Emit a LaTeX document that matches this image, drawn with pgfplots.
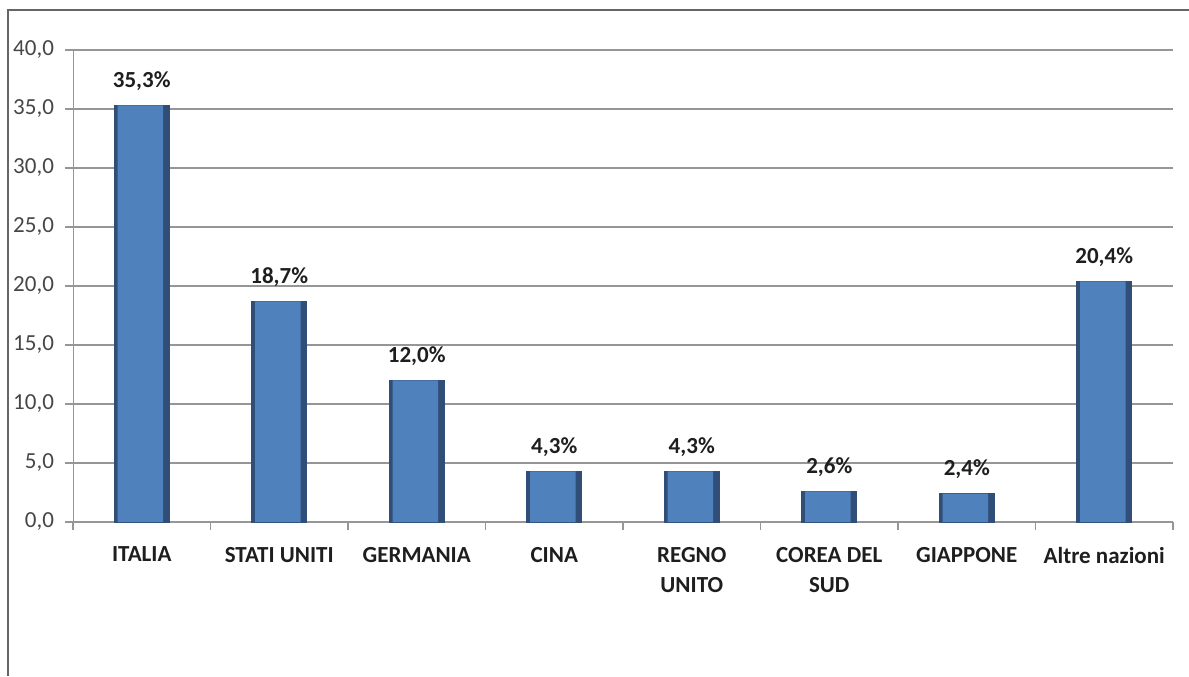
\documentclass[border=0pt]{standalone}
\usepackage{pgfplots}
\pgfplotsset{compat=1.18}
\usepackage{fontspec}
\setmainfont{Carlito}
\definecolor{barmid}{RGB}{79,129,189}
\definecolor{bardark}{RGB}{48,78,120}
\definecolor{gridc}{RGB}{150,150,150}
\definecolor{txt}{RGB}{70,70,70}
\definecolor{lab}{RGB}{30,30,30}
\begin{document}
\begin{tikzpicture}[x=1pt,y=1pt]
\path[use as bounding box] (0,0) rectangle (594.5,338);
\draw[gray!80!black, line width=0.9pt] (4,0) -- (4,333) -- (594.5,333);
\begin{axis}[
    at={(36.5pt,77pt)}, anchor=south west,
    scale only axis, width=550pt, height=236pt,
    xmin=-0.5, xmax=7.5, ymin=0, ymax=40,
    axis line style={gridc},
    axis x line*=bottom, axis y line*=left,
    ytick={0,5,...,40},
    ymajorgrids, grid style={gridc, line width=0.6pt},
    yticklabel style={font=\fontsize{11.5}{12}\selectfont, text=txt, xshift=-2pt},
    /pgf/number format/.cd, fixed, fixed zerofill, precision=1, use comma, assume math mode=true,
    /pgfplots/.cd,
    y tick style={gridc, line width=0.6pt},
    tick align=outside, major tick length=4pt,
    xtick={0,...,7},
    xticklabels={ITALIA, STATI UNITI, GERMANIA, CINA, {REGNO\\UNITO}, {COREA DEL\\SUD}, GIAPPONE, Altre nazioni},
    x tick style={draw=none},
    xticklabel style={font=\fontsize{11.5}{15}\selectfont\bfseries, text=lab, align=center, yshift=-5pt},
    extra x ticks={-0.5,0.5,...,7.5},
    extra x tick labels={},
    extra x tick style={grid=none, x tick style={draw=gridc, line width=0.6pt}, major tick length=4pt},
    ybar, bar shift=0pt,
]
% outer (dark edge) bar
\addplot[draw=bardark, line width=0.4pt, fill=bardark, bar width=0.4,
    nodes near coords={\pgfmathprintnumber[fixed,fixed zerofill,precision=1,use comma]{\pgfplotspointmeta}\%},
    every node near coord/.append style={font=\fontsize{11.5}{12}\selectfont\bfseries, text=lab, yshift=4pt}]
  coordinates {(0,35.3) (1,18.7) (2,12.0) (3,4.3) (4,4.3) (5,2.6) (6,2.4) (7,20.4)};
% inner (lit face) bar
\addplot[draw=none, fill=barmid, bar width=0.33, bar shift=-0.01]
  coordinates {(0,35.3) (1,18.7) (2,12.0) (3,4.3) (4,4.3) (5,2.6) (6,2.4) (7,20.4)};
\end{axis}
\end{tikzpicture}
\end{document}
